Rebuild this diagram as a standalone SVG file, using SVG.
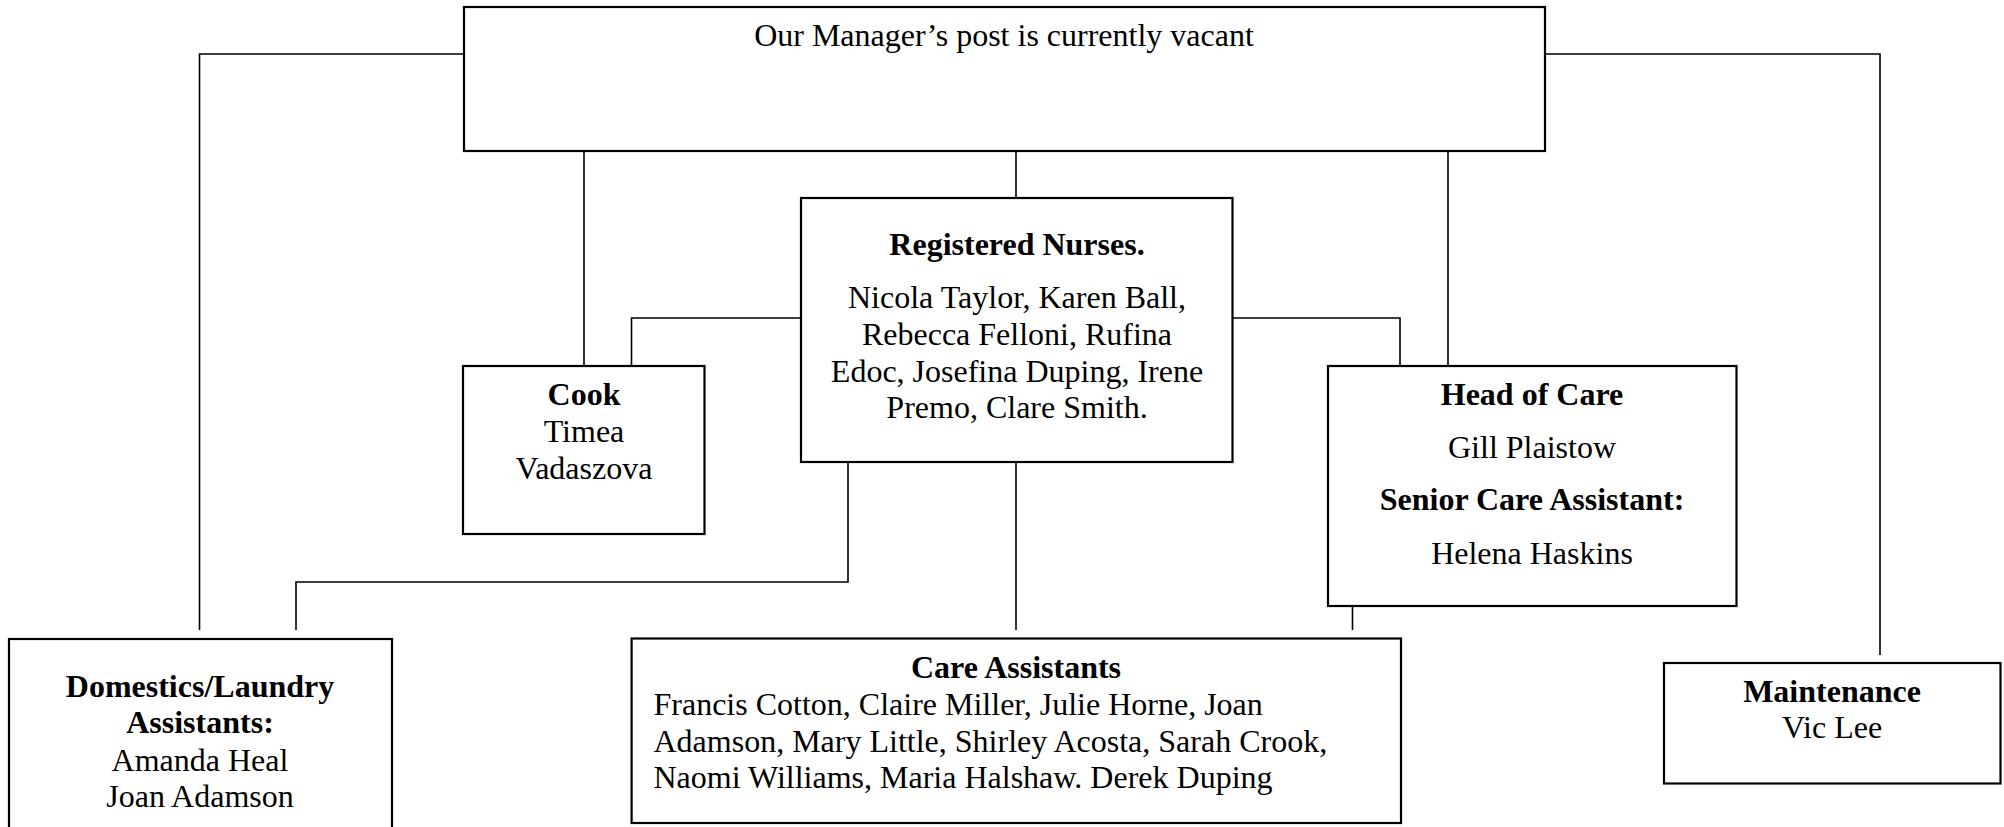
<svg xmlns="http://www.w3.org/2000/svg" width="2004" height="827" viewBox="0 0 2004 827">
<style>
.box{fill:#fff;stroke:#000;stroke-width:2.2}
.ln{fill:none;stroke:#000;stroke-width:1.6}
text{font-family:"Liberation Serif","Times New Roman",serif;font-size:32px;fill:#000}
.c{text-anchor:middle}
.b{font-weight:bold}
</style>
<rect width="2004" height="827" fill="#fff"/>
<g id="connectors">
<path class="ln" d="M464,54 H199.5 V630"/>
<path class="ln" d="M1545,54 H1880 V655"/>
<path class="ln" d="M584,151 V366"/>
<path class="ln" d="M1016,151 V198"/>
<path class="ln" d="M1448,151 V366"/>
<path class="ln" d="M801,318 H631.5 V366"/>
<path class="ln" d="M1232.5,318 H1400 V366"/>
<path class="ln" d="M848,462 V582 H296 V630"/>
<path class="ln" d="M1016,462 V630"/>
<path class="ln" d="M1352.5,606 V630"/>
</g>
<g id="manager">
<rect class="box" x="464" y="7" width="1081" height="144"/>
<text class="c" x="1004" y="46">Our Manager’s post is currently vacant</text>
</g>
<g id="registered-nurses">
<rect class="box" x="801" y="198" width="431.5" height="264"/>
<text class="c b" x="1017" y="255">Registered Nurses.</text>
<text class="c" x="1017" y="308.3">Nicola Taylor, Karen Ball,</text>
<text class="c" x="1017" y="345">Rebecca Felloni, Rufina</text>
<text class="c" x="1017" y="381.7">Edoc, Josefina Duping, Irene</text>
<text class="c" x="1017" y="418">Premo, Clare Smith.</text>
</g>
<g id="cook">
<rect class="box" x="463" y="366" width="241.5" height="168"/>
<text class="c b" x="584" y="405">Cook</text>
<text class="c" x="584" y="442">Timea</text>
<text class="c" x="584" y="479">Vadaszova</text>
</g>
<g id="head-of-care">
<rect class="box" x="1328" y="366" width="408.5" height="240"/>
<text class="c b" x="1532" y="405">Head of Care</text>
<text class="c" x="1532" y="458">Gill Plaistow</text>
<text class="c b" x="1532" y="510">Senior Care Assistant:</text>
<text class="c" x="1532" y="564">Helena Haskins</text>
</g>
<g id="domestics">
<rect class="box" x="9" y="639" width="383" height="200"/>
<text class="c b" x="200" y="697">Domestics/Laundry</text>
<text class="c b" x="200" y="733">Assistants:</text>
<text class="c" x="200" y="770.5">Amanda Heal</text>
<text class="c" x="200" y="807">Joan Adamson</text>
</g>
<g id="care-assistants">
<rect class="box" x="631.6" y="638.5" width="769.4" height="184.5"/>
<text class="c b" x="1016" y="678">Care Assistants</text>
<text x="653.5" y="715">Francis Cotton, Claire Miller, Julie Horne, Joan</text>
<text x="653.5" y="751.7">Adamson, Mary Little, Shirley Acosta, Sarah Crook,</text>
<text x="653.5" y="788">Naomi Williams, Maria Halshaw. Derek Duping</text>
</g>
<g id="maintenance">
<rect class="box" x="1664" y="663" width="336.5" height="120.5"/>
<text class="c b" x="1832" y="701.7">Maintenance</text>
<text class="c" x="1832" y="738">Vic Lee</text>
</g>
</svg>
